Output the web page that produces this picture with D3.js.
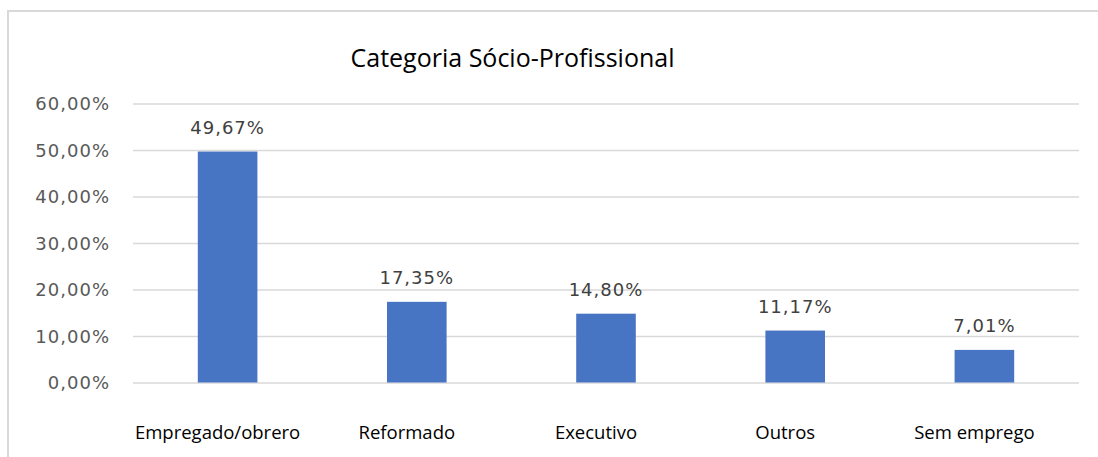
<!DOCTYPE html>
<html>
<head>
<meta charset="utf-8">
<script src="https://cdn.jsdelivr.net/npm/d3@7"></script>
<style>
  body { margin: 0; background: #fff; }
  svg { display: block; }
</style>
</head>
<body>
<div id="chart"></div>
<script>
// ! Data
var categories = ["Empregado/obrero", "Reformado", "Executivo", "Outros", "Sem emprego"];
var values = [49.67, 17.35, 14.80, 11.17, 7.01];
var y_ticks = [0, 10, 20, 30, 40, 50, 60];

// ! Parameters
var width = 1098, height = 457;
var plot_left = 133, plot_right = 1079, plot_top = 103.5, plot_bottom = 382.5;

var pt_locale = d3.formatLocale({ decimal: ",", thousands: ".", grouping: [3], currency: ["", " €"] });
var fmt_pct = function (d) { return pt_locale.format(".2f")(d) + "%"; };

var svg = d3.select("#chart")
  .append("svg")
  .attr("width", width)
  .attr("height", height);

svg.append("rect")
  .attr("width", width).attr("height", height)
  .attr("fill", "#fff");

// chart frame (runs off the right and bottom edges)
svg.append("rect")
  .attr("x", 8).attr("y", 11)
  .attr("width", width + 20).attr("height", height + 20)
  .attr("fill", "none")
  .attr("stroke", "#d9d9d9")
  .attr("stroke-width", 2);

// ! Scales
var x_scale = d3.scaleBand()
  .domain(categories)
  .range([plot_left, plot_right])
  .paddingInner(0.685)
  .paddingOuter(0.3425);

var y_scale = d3.scaleLinear()
  .domain([0, 60])
  .range([plot_bottom, plot_top]);

// ! Gridlines + y axis
svg.append("g")
  .attr("transform", "translate(" + plot_left + ",0)")
  .call(d3.axisLeft(y_scale).tickValues(y_ticks).tickSize(-(plot_right - plot_left)).tickPadding(23).tickFormat(fmt_pct))
  .call(function (g) { g.select(".domain").remove(); })
  .call(function (g) {
    g.selectAll(".tick line").attr("stroke", "#d9d9d9").attr("stroke-width", 1.3);
    g.selectAll(".tick text")
      .attr("fill", "#595959")
      .style("font-family", "'DejaVu Sans', Verdana, sans-serif")
      .style("font-size", "18px")
      .style("letter-spacing", "1px")
      .attr("dy", "0.36em");
  });

// ! Bars
svg.selectAll("myRect")
  .data(values)
  .enter()
  .append("rect")
  .attr("x", function (d, i) { return x_scale(categories[i]); })
  .attr("y", function (d) { return y_scale(d); })
  .attr("width", x_scale.bandwidth())
  .attr("height", function (d) { return y_scale(0) - y_scale(d); })
  .attr("fill", "#4874c4");

// ! Data labels
svg.selectAll("myLabels")
  .data(values)
  .enter()
  .append("text")
  .attr("x", function (d, i) { return x_scale(categories[i]) + x_scale.bandwidth() / 2; })
  .attr("y", function (d) { return y_scale(d) - 17.5; })
  .attr("text-anchor", "middle")
  .attr("fill", "#404040")
  .style("font-family", "'DejaVu Sans', Verdana, sans-serif")
  .style("font-size", "18px")
  .style("letter-spacing", "1px")
  .text(function (d) { return fmt_pct(d); });

// ! Category labels
svg.selectAll("myCats")
  .data(categories)
  .enter()
  .append("text")
  .attr("x", function (d) { return x_scale(d) + x_scale.bandwidth() / 2 - 10; })
  .attr("y", 438.5)
  .attr("text-anchor", "middle")
  .attr("fill", "#000")
  .style("font-family", "'Open Sans', sans-serif")
  .style("font-size", "18.5px")
  .text(function (d) { return d; });

// ! Title
svg.append("text")
  .attr("x", 512.5)
  .attr("y", 67)
  .attr("text-anchor", "middle")
  .attr("fill", "#000")
  .style("font-family", "'Open Sans', sans-serif")
  .style("font-size", "25px")
  .text("Categoria Sócio-Profissional");
</script>
</body>
</html>
